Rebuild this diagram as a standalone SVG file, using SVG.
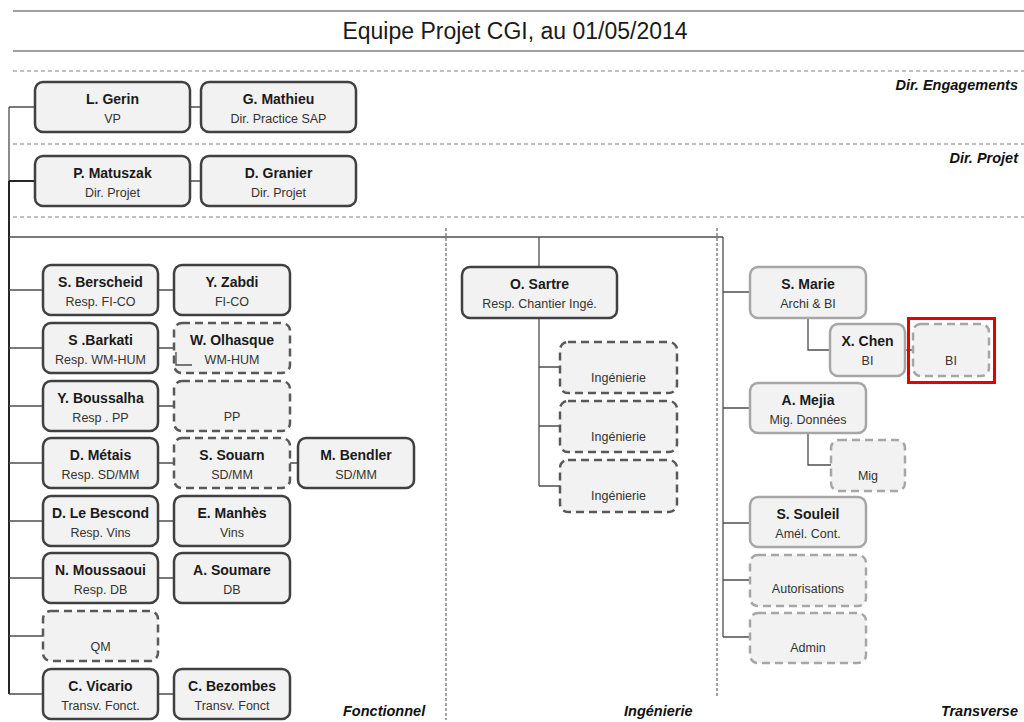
<svg xmlns="http://www.w3.org/2000/svg" width="1024" height="722" viewBox="0 0 1024 722">
  <style>
    .box { fill: #f2f2f2; stroke: #404040; stroke-width: 2.5; }
    .dash { stroke: #595959; stroke-dasharray: 8 5; }
    .light { stroke: #a6a6a6; }
    .t { font-family: "Liberation Sans", Arial, sans-serif; font-weight: bold; font-size: 14px; fill: #1a1a1a; text-anchor: middle; }
    .s { font-family: "Liberation Sans", Arial, sans-serif; font-size: 12.5px; fill: #333; text-anchor: middle; }
    .zone { font-family: "Liberation Sans", Arial, sans-serif; font-weight: bold; font-style: italic; font-size: 14.5px; fill: #111; }
    .rule { stroke: #7f7f7f; stroke-width: 1.5; fill: none; }
    .sep { stroke: #808080; stroke-width: 1; stroke-dasharray: 4 3; fill: none; }
    .vsep { stroke: #666; stroke-width: 1.2; stroke-dasharray: 3 2; fill: none; }
    .link { stroke: #4d4d4d; stroke-width: 1.3; fill: none; }
    .trunk { stroke: #262626; stroke-width: 2; fill: none; }
  </style>

  <rect width="1024" height="722" fill="#ffffff"/>

  <!-- title band -->
  <g id="title">
    <line class="rule" x1="13" y1="11" x2="1024" y2="11"/>
    <line class="rule" x1="13" y1="51" x2="1024" y2="51"/>
    <text x="515" y="39" font-family="Liberation Sans, Arial, sans-serif" font-size="23" fill="#1a1a1a" text-anchor="middle">Equipe Projet CGI, au 01/05/2014</text>
  </g>

  <!-- band separators and column separators -->
  <g id="separators">
    <line class="sep" x1="13" y1="71" x2="1024" y2="71"/>
    <line class="sep" x1="13" y1="144" x2="1024" y2="144"/>
    <line class="sep" x1="13" y1="217" x2="1024" y2="217"/>
    <line class="vsep" x1="446" y1="228" x2="446" y2="720"/>
    <line class="vsep" x1="717" y1="228" x2="717" y2="697"/>
  </g>

  <!-- zone labels -->
  <g id="zones">
    <text class="zone" x="1018" y="90" text-anchor="end">Dir. Engagements</text>
    <text class="zone" x="1018" y="163" text-anchor="end">Dir. Projet</text>
    <text class="zone" x="343" y="716">Fonctionnel</text>
    <text class="zone" x="624" y="716">Ingénierie</text>
    <text class="zone" x="1018" y="716" text-anchor="end">Transverse</text>
  </g>

  <!-- connectors -->
  <g id="connectors">
    <path class="link" d="M9,107 V181 M9,107 H35 M190,107 H201 M190,181 H201"/>
    <path class="trunk" d="M9,181 V694 M9,181 H35"/>
    <path class="link" d="M9,237 H723"/>
    <path class="link" d="M9,290 H43 M9,348 H43 M9,406 H43 M9,463 H43 M9,521 H43 M9,578 H43 M9,636 H43 M9,694 H43"/>
    <path class="link" d="M158,290 H174 M158,348 H174 M158,406 H174 M158,463 H174 M158,521 H174 M158,578 H174 M158,694 H174 M290,463 H298"/>
    <path class="link" d="M539,237 V267 M539,318 V486 M539,367 H560 M539,426 H560 M539,486 H560"/>
    <path class="link" d="M723,237 V637 M723,292 H750 M723,408 H750 M723,523 H750 M723,580 H750 M723,637 H750"/>
    <path class="link" d="M808,318 V350 H830 M905,350 H913 M808,433 V465 H831"/>
  </g>

  <!-- direction -->
  <g id="n-gerin">
    <rect class="box" x="35" y="82" width="155" height="50" rx="8"/>
    <text class="t" x="112.5" y="104">L. Gerin</text>
    <text class="s" x="112.5" y="123">VP</text>
  </g>
  <g id="n-mathieu">
    <rect class="box" x="201" y="82" width="155" height="50" rx="8"/>
    <text class="t" x="278.5" y="104">G. Mathieu</text>
    <text class="s" x="278.5" y="123">Dir. Practice SAP</text>
  </g>
  <g id="n-matuszak">
    <rect class="box" x="35" y="156" width="155" height="50" rx="8"/>
    <text class="t" x="112.5" y="178">P. Matuszak</text>
    <text class="s" x="112.5" y="197">Dir. Projet</text>
  </g>
  <g id="n-granier">
    <rect class="box" x="201" y="156" width="155" height="50" rx="8"/>
    <text class="t" x="278.5" y="178">D. Granier</text>
    <text class="s" x="278.5" y="197">Dir. Projet</text>
  </g>

  <!-- fonctionnel -->
  <g id="n-berscheid">
    <rect class="box" x="43" y="265" width="115" height="50" rx="8"/>
    <text class="t" x="100.5" y="287">S. Berscheid</text>
    <text class="s" x="100.5" y="306">Resp. FI-CO</text>
  </g>
  <g id="n-zabdi">
    <rect class="box" x="174" y="265" width="116" height="50" rx="8"/>
    <text class="t" x="232" y="287">Y. Zabdi</text>
    <text class="s" x="232" y="306">FI-CO</text>
  </g>
  <g id="n-barkati">
    <rect class="box" x="43" y="323" width="115" height="50" rx="8"/>
    <text class="t" x="100.5" y="345">S .Barkati</text>
    <text class="s" x="100.5" y="364">Resp. WM-HUM</text>
  </g>
  <g id="n-olhasque">
    <rect class="box dash" x="174" y="323" width="116" height="50" rx="8"/>
    <!-- stray elbow visible through the dashed outline -->
    <path class="link" d="M176,352 V365 H192"/>
    <text class="t" x="232" y="345">W. Olhasque</text>
    <text class="s" x="232" y="364">WM-HUM</text>
  </g>
  <g id="n-boussalha">
    <rect class="box" x="43" y="381" width="115" height="50" rx="8"/>
    <text class="t" x="100.5" y="403">Y. Boussalha</text>
    <text class="s" x="100.5" y="422">Resp . PP</text>
  </g>
  <g id="n-pp">
    <rect class="box dash" x="174" y="381" width="116" height="50" rx="8"/>
    <text class="s" x="232" y="421">PP</text>
  </g>
  <g id="n-metais">
    <rect class="box" x="43" y="438" width="115" height="50" rx="8"/>
    <text class="t" x="100.5" y="460">D. Métais</text>
    <text class="s" x="100.5" y="479">Resp. SD/MM</text>
  </g>
  <g id="n-souarn">
    <rect class="box dash" x="174" y="438" width="116" height="50" rx="8"/>
    <text class="t" x="232" y="460">S. Souarn</text>
    <text class="s" x="232" y="479">SD/MM</text>
  </g>
  <g id="n-bendler">
    <rect class="box" x="298" y="438" width="116" height="50" rx="8"/>
    <text class="t" x="356" y="460">M. Bendler</text>
    <text class="s" x="356" y="479">SD/MM</text>
  </g>
  <g id="n-lebescond">
    <rect class="box" x="43" y="496" width="115" height="50" rx="8"/>
    <text class="t" x="100.5" y="518">D.  Le Bescond</text>
    <text class="s" x="100.5" y="537">Resp. Vins</text>
  </g>
  <g id="n-manhes">
    <rect class="box" x="174" y="496" width="116" height="50" rx="8"/>
    <text class="t" x="232" y="518">E. Manhès</text>
    <text class="s" x="232" y="537">Vins</text>
  </g>
  <g id="n-moussaoui">
    <rect class="box" x="43" y="553" width="115" height="50" rx="8"/>
    <text class="t" x="100.5" y="575">N. Moussaoui</text>
    <text class="s" x="100.5" y="594">Resp. DB</text>
  </g>
  <g id="n-soumare">
    <rect class="box" x="174" y="553" width="116" height="50" rx="8"/>
    <text class="t" x="232" y="575">A. Soumare</text>
    <text class="s" x="232" y="594">DB</text>
  </g>
  <g id="n-qm">
    <rect class="box dash" x="43" y="611" width="115" height="50" rx="8"/>
    <text class="s" x="100.5" y="651">QM</text>
  </g>
  <g id="n-vicario">
    <rect class="box" x="43" y="669" width="115" height="50" rx="8"/>
    <text class="t" x="100.5" y="691">C. Vicario</text>
    <text class="s" x="100.5" y="710">Transv. Fonct.</text>
  </g>
  <g id="n-bezombes">
    <rect class="box" x="174" y="669" width="116" height="50" rx="8"/>
    <text class="t" x="232" y="691">C. Bezombes</text>
    <text class="s" x="232" y="710">Transv. Fonct</text>
  </g>

  <!-- ingenierie -->
  <g id="n-sartre">
    <rect class="box" x="462" y="267" width="155" height="51" rx="8"/>
    <text class="t" x="539.5" y="289">O. Sartre</text>
    <text class="s" x="539.5" y="308" font-size="12">Resp. Chantier Ingé.</text>
  </g>
  <g id="n-inge1">
    <rect class="box dash" x="560" y="342" width="117" height="51" rx="8"/>
    <text class="s" x="618.5" y="382">Ingénierie</text>
  </g>
  <g id="n-inge2">
    <rect class="box dash" x="560" y="401" width="117" height="51" rx="8"/>
    <text class="s" x="618.5" y="441">Ingénierie</text>
  </g>
  <g id="n-inge3">
    <rect class="box dash" x="560" y="460" width="117" height="52" rx="8"/>
    <text class="s" x="618.5" y="500">Ingénierie</text>
  </g>

  <!-- transverse -->
  <g id="n-marie">
    <rect class="box light" x="750" y="267" width="116" height="51" rx="8"/>
    <text class="t" x="808" y="289">S. Marie</text>
    <text class="s" x="808" y="308">Archi &amp; BI</text>
  </g>
  <g id="n-chen">
    <rect class="box light" x="830" y="324" width="75" height="52" rx="8"/>
    <text class="t" x="867.5" y="346">X. Chen</text>
    <text class="s" x="867.5" y="365">BI</text>
  </g>
  <g id="n-bi">
    <rect class="box light dash" x="913" y="324" width="76" height="52" rx="8" style="stroke:#a6a6a6"/>
    <text class="s" x="951" y="365">BI</text>
    <rect x="908.5" y="318.5" width="86" height="64" fill="none" stroke="#e50000" stroke-width="3"/>
  </g>
  <g id="n-mejia">
    <rect class="box light" x="750" y="383" width="116" height="50" rx="8"/>
    <text class="t" x="808" y="405">A. Mejia</text>
    <text class="s" x="808" y="424">Mig. Données</text>
  </g>
  <g id="n-mig">
    <rect class="box light dash" x="831" y="440" width="74" height="51" rx="8" style="stroke:#a6a6a6"/>
    <text class="s" x="868" y="480">Mig</text>
  </g>
  <g id="n-souleil">
    <rect class="box light" x="750" y="497" width="116" height="50" rx="8"/>
    <text class="t" x="808" y="519">S. Souleil</text>
    <text class="s" x="808" y="538">Amél. Cont.</text>
  </g>
  <g id="n-autorisations">
    <rect class="box light dash" x="750" y="555" width="116" height="51" rx="8" style="stroke:#a6a6a6"/>
    <text class="s" x="808" y="593">Autorisations</text>
  </g>
  <g id="n-admin">
    <rect class="box light dash" x="750" y="613" width="116" height="50" rx="8" style="stroke:#a6a6a6"/>
    <text class="s" x="808" y="652">Admin</text>
  </g>
</svg>
